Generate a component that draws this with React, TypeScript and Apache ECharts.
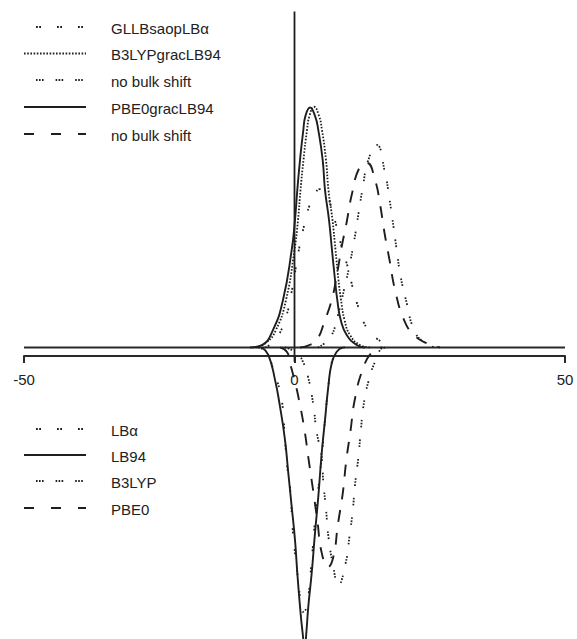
import React, { useEffect, useRef } from "react";
import * as echarts from "echarts";

// Upper panel (positive bands): [energy shift, intensity]
const gllbSaopLBa: [number, number][] = [
  [-5.45, 0], [-3.6, 0.031], [-1.76, 0.115], [-0.46, 0.24], [0.7, 0.394], [1.63, 0.494],
  [2.68, 0.585], [3.79, 0.64], [4.71, 0.66], [5.82, 0.648], [6.56, 0.602], [7.8, 0.502],
  [8.72, 0.419], [9.89, 0.331], [10.87, 0.24], [12.0, 0.156], [13.64, 0.073], [16.41, 0.019],
  [18.58, 0],
];
const b3lypGracLB94: [number, number][] = [
  [-7.2, 0], [-5.27, 0.019], [-3.42, 0.073], [-1.57, 0.198], [0, 0.406], [0.65, 0.531],
  [1.11, 0.656], [1.66, 0.781], [2.31, 0.906], [2.77, 0.965], [3.6, 1.003], [4.53, 0.965],
  [5.08, 0.906], [5.82, 0.781], [6.28, 0.656], [7.02, 0.531], [7.58, 0.406], [8.13, 0.281],
  [8.6, 0.198], [9.24, 0.115], [10.26, 0.052], [12.11, 0.01], [13.96, 0],
];
const noBulkShiftDotted: [number, number][] = [
  [4.34, 0], [5.64, 0.019], [6.75, 0.044], [8.04, 0.135], [9.15, 0.24], [10.07, 0.331],
  [11.05, 0.448], [11.79, 0.552], [12.61, 0.665], [13.64, 0.781], [15.19, 0.844], [16.73, 0.727],
  [17.52, 0.623], [18.26, 0.51], [18.89, 0.406], [19.63, 0.294], [20.74, 0.185], [21.96, 0.081],
  [23.57, 0.027], [25.97, 0],
];
const pbe0GracLB94: [number, number][] = [
  [-8.23, 0], [-6.01, 0.01], [-3.97, 0.073], [-2.13, 0.198], [-0.52, 0.406],
  [0.09, 0.531], [0.52, 0.656], [1.02, 0.781], [1.63, 0.906], [2.03, 0.965], [2.87, 1.0],
  [3.79, 0.965], [4.4, 0.906], [5.21, 0.781], [5.64, 0.656], [6.38, 0.531], [6.93, 0.406],
  [7.49, 0.281], [7.91, 0.198], [8.54, 0.115], [9.65, 0.052], [11.5, 0.01], [13.03, 0],
];
const noBulkShiftDashed: [number, number][] = [
  [1.02, 0], [2.5, 0.008], [4.1, 0.031], [5.64, 0.115], [6.88, 0.198], [7.8, 0.298], [8.72, 0.419],
  [9.65, 0.523], [10.57, 0.635], [11.98, 0.748], [13.4, 0.769], [14.88, 0.698], [15.8, 0.598],
  [16.64, 0.477], [17.56, 0.365], [18.58, 0.24], [20.24, 0.115], [22.09, 0.052], [24.49, 0.017],
  [26.89, 0],
];

// Lower panel (negative bands)
const lbAlpha: [number, number][] = [
  [-6.75, 0], [-5.27, -0.019], [-3.79, -0.102], [-2.37, -0.219], [-1.76, -0.385],
  [-1.33, -0.498], [-0.83, -0.581], [-0.33, -0.76], [0.09, -0.856], [0.52, -0.94], [1.02, -1.04],
  [1.57, -1.102], [2.26, -1.081], [3.18, -0.885], [3.79, -0.719], [4.58, -0.552], [5.03, -0.456],
  [5.64, -0.302], [6.28, -0.156], [6.93, -0.06], [8.04, -0.01], [9.33, 0],
];
const lb94: [number, number][] = [
  [-6.01, 0], [-4.84, -0.031], [-3.6, -0.135], [-2.68, -0.247], [-1.76, -0.385],
  [-1.15, -0.523], [-0.52, -0.663], [0.09, -0.802], [0.52, -0.94], [1.02, -1.08], [1.48, -1.185],
  [1.9, -1.25], [2.2, -1.185], [2.55, -1.08], [3.18, -0.94], [3.79, -0.773], [4.4, -0.622],
  [5.03, -0.44], [5.64, -0.302], [6.25, -0.163], [6.88, -0.066], [7.8, -0.018], [9.02, 0],
];
const b3lyp: [number, number][] = [
  [-1.76, 0], [0.41, -0.023], [1.57, -0.06], [2.55, -0.127], [3.48, -0.24], [4.1, -0.352],
  [5.03, -0.456], [5.32, -0.56], [5.82, -0.673], [6.25, -0.785], [7.12, -0.906], [8.1, -0.99],
  [9.46, -0.898], [10.13, -0.794], [10.76, -0.681], [11.18, -0.573], [11.79, -0.46], [12.24, -0.352],
  [12.72, -0.248], [13.64, -0.144], [15.19, -0.044], [16.41, -0.002], [17.65, 0],
];
const pbe0: [number, number][] = [
  [-2.68, 0], [-1.39, -0.019], [-0.83, -0.065], [0.09, -0.144], [0.83, -0.219], [1.85, -0.344],
  [2.62, -0.469], [3.48, -0.602], [4.25, -0.727], [5.03, -0.856], [6.19, -0.915], [7.17, -0.873],
  [8.04, -0.735], [8.93, -0.606], [9.56, -0.473], [10.35, -0.348], [11.13, -0.219], [12.57, -0.094],
  [14.33, -0.019], [16.17, 0],
];

// Reference lines: zero baseline and the vertical line at zero shift
const baseline: [number, number][] = [[-50, 0], [50, 0]];
const zeroLine: [number, number][] = [[0, 1.4], [0, -0.06]];

const xTicks = { min: -50, max: 50, interval: 50 };

const INK = "#1e1e1e";
const FONT = '"Liberation Sans", Arial, sans-serif';

const STYLES = {
  pairs: [1.8, 1.4, 1.8, 16],
  dense: [1.6, 1.6],
  triples: [1.6, 1.4, 1.6, 1.4, 1.6, 12],
  solid: null as number[] | null,
  dashed: [12, 11],
};

type StyleKey = keyof typeof STYLES;

const upperLegend: { label: string; style: StyleKey }[] = [
  { label: "GLLBsaopLBα", style: "pairs" },
  { label: "B3LYPgracLB94", style: "dense" },
  { label: "no bulk shift", style: "triples" },
  { label: "PBE0gracLB94", style: "solid" },
  { label: "no bulk shift", style: "dashed" },
];
const lowerLegend: { label: string; style: StyleKey }[] = [
  { label: "LBα", style: "pairs" },
  { label: "LB94", style: "solid" },
  { label: "B3LYP", style: "triples" },
  { label: "PBE0", style: "dashed" },
];

function curve(name: string, data: [number, number][], style: StyleKey) {
  const dash = STYLES[style];
  return {
    name,
    type: "line",
    data,
    xAxisIndex: 0,
    yAxisIndex: 0,
    smooth: 0.5,
    showSymbol: false,
    silent: true,
    lineStyle: {
      color: INK,
      width: style === "solid" || style === "dashed" ? 1.9 : 1.8,
      type: dash ? dash : "solid",
      cap: "butt",
    },
  };
}

function legendBlock(items: { label: string; style: StyleKey }[], rows: number[]) {
  const els: any[] = [];
  items.forEach((it, i) => {
    const y = rows[i];
    const dash = STYLES[it.style];
    els.push({
      type: "line",
      shape: { x1: 24, y1: y - 1, x2: 86, y2: y - 1 },
      style: {
        stroke: INK,
        lineWidth: it.style === "solid" || it.style === "dashed" ? 1.9 : 1.8,
        lineDash: dash ? (it.style === "dashed" ? [10, 17] : dash) : null,
        lineDashOffset: it.style === "pairs" || it.style === "triples" ? -12 : 0,
      },
      silent: true,
    });
    els.push({
      type: "text",
      x: 111,
      y,
      style: {
        text: it.label,
        font: `15px ${FONT}`,
        fill: "#222",
        verticalAlign: "middle",
        align: "left",
      },
      silent: true,
    });
  });
  return els;
}

export default function App() {
  const ref = useRef<HTMLDivElement>(null);

  useEffect(() => {
    if (!ref.current) return;
    const chart = echarts.init(ref.current, undefined, { renderer: "svg" });
    chart.setOption({
      animation: false,
      backgroundColor: "#ffffff",
      grid: [
        { left: 24, right: 12, top: 11.5, bottom: 0 },
        { left: 24, right: 12, top: 355, height: 1 },
      ],
      xAxis: [
        { gridIndex: 0, type: "value", min: -50, max: 50, show: false },
        {
          gridIndex: 1,
          type: "value",
          ...xTicks,
          position: "bottom",
          axisLine: { show: true, lineStyle: { color: "#2a2a2a", width: 2 } },
          axisTick: { show: true, length: 7, lineStyle: { color: "#2a2a2a", width: 2 } },
          axisLabel: { fontSize: 15, color: "#222", fontFamily: FONT, margin: 16 },
          splitLine: { show: false },
        },
      ],
      yAxis: [
        { gridIndex: 0, type: "value", min: -1.215, max: 1.4, show: false },
        { gridIndex: 1, type: "value", min: 0, max: 1, show: false },
      ],
      series: [
        {
          name: "baseline",
          type: "line",
          data: baseline,
          showSymbol: false,
          silent: true,
          lineStyle: { color: "#2a2a2a", width: 2 },
        },
        {
          name: "zero",
          type: "line",
          data: zeroLine,
          showSymbol: false,
          silent: true,
          lineStyle: { color: INK, width: 1.8 },
        },
        curve("GLLBsaopLBα", gllbSaopLBa, "pairs"),
        curve("B3LYPgracLB94", b3lypGracLB94, "dense"),
        curve("no bulk shift (B3LYP)", noBulkShiftDotted, "triples"),
        curve("PBE0gracLB94", pbe0GracLB94, "solid"),
        curve("no bulk shift (PBE0)", noBulkShiftDashed, "dashed"),
        curve("LBα", lbAlpha, "pairs"),
        curve("LB94", lb94, "solid"),
        curve("B3LYP", b3lyp, "triples"),
        curve("PBE0", pbe0, "dashed"),
      ],
      graphic: [
        ...legendBlock(upperLegend, [28, 54.5, 81, 108, 135]),
        ...legendBlock(lowerLegend, [430, 456, 482, 509]),
      ],
    });
    return () => chart.dispose();
  }, []);

  return (
    <div
      ref={ref}
      style={{ position: "absolute", left: 0, top: 0, width: 577, height: 639, background: "#fff" }}
    />
  );
}
